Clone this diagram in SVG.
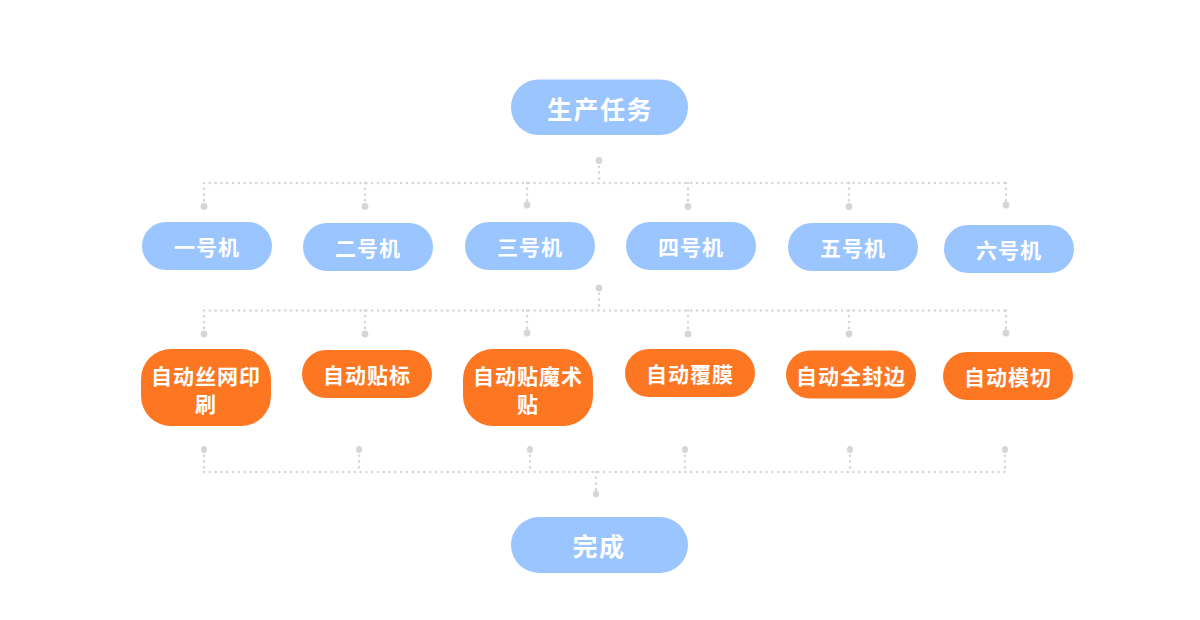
<svg xmlns="http://www.w3.org/2000/svg" width="1200" height="620" viewBox="0 0 1200 620">
  <style>
    .blue { fill: #9AC5FE; }
    .orange { fill: #FD7621; }
    .t { fill: #FFFFFF; font-family: "Noto Sans CJK SC", "Noto Sans", sans-serif; font-weight: bold; font-size: 21px; letter-spacing: 1px; text-anchor: middle; dominant-baseline: central; }
    .big { font-size: 25px; letter-spacing: 1.5px; }
    .dl { fill: none; stroke: #D6D6D6; stroke-width: 2.6; stroke-linecap: round; stroke-dasharray: 0 5.8; }
    .dot { fill: #D6D6D6; }
  </style>
  <rect width="1200" height="620" fill="#FFFFFF"/>

  <g id="connectors">
    <!-- top hub -->
    <path class="dl" d="M599 161 V183 M204 183 H1006 M204 183 V206 M365 183 V206 M527 183 V205 M688 183 V206 M849 183 V206 M1006 183 V205"/>
    <circle class="dot" cx="599" cy="160.5" r="3.4"/>
    <circle class="dot" cx="204" cy="206.5" r="3.4"/>
    <circle class="dot" cx="365" cy="206.5" r="3.4"/>
    <circle class="dot" cx="527" cy="205" r="3.4"/>
    <circle class="dot" cx="688" cy="206.5" r="3.4"/>
    <circle class="dot" cx="849" cy="206.5" r="3.4"/>
    <circle class="dot" cx="1006" cy="205" r="3.4"/>
    <!-- middle hub -->
    <path class="dl" d="M599 288 V310.5 M204 310.5 H1006 M204 310.5 V333 M365 310.5 V333 M527 310.5 V332 M688 310.5 V333 M849 310.5 V333 M1006 310.5 V332"/>
    <circle class="dot" cx="599" cy="288" r="3.4"/>
    <circle class="dot" cx="204" cy="334" r="3.4"/>
    <circle class="dot" cx="365" cy="334" r="3.4"/>
    <circle class="dot" cx="527" cy="333" r="3.4"/>
    <circle class="dot" cx="688" cy="334" r="3.4"/>
    <circle class="dot" cx="849" cy="334" r="3.4"/>
    <circle class="dot" cx="1006" cy="333" r="3.4"/>
    <!-- bottom hub -->
    <path class="dl" d="M204 450 V472 M359 450 V472 M530 450 V472 M685 450 V472 M850 450 V472 M1005 450 V472 M204 472 H1005 M596 472 V493"/>
    <ellipse class="dot" cx="204" cy="449.5" rx="3" ry="3.5"/>
    <ellipse class="dot" cx="359" cy="449.5" rx="3" ry="3.5"/>
    <ellipse class="dot" cx="530" cy="449.5" rx="3" ry="3.5"/>
    <ellipse class="dot" cx="685" cy="449.5" rx="3" ry="3.5"/>
    <ellipse class="dot" cx="850" cy="449.5" rx="3" ry="3.5"/>
    <ellipse class="dot" cx="1005" cy="449.5" rx="3" ry="3.5"/>
    <ellipse class="dot" cx="596" cy="494" rx="3" ry="3.5"/>
  </g>

  <g id="n-task">
    <rect class="blue" x="511" y="79.5" width="177" height="55.5" rx="27.7"/>
    <text class="t big" x="600" y="107.5">生产任务</text>
  </g>

  <g id="n-m1">
    <rect class="blue" x="142" y="222" width="130" height="48" rx="24"/>
    <text class="t" x="207" y="246">一号机</text>
  </g>
  <g id="n-m2">
    <rect class="blue" x="303" y="223" width="130" height="48" rx="24"/>
    <text class="t" x="368" y="247">二号机</text>
  </g>
  <g id="n-m3">
    <rect class="blue" x="465" y="222" width="130" height="48" rx="24"/>
    <text class="t" x="530" y="246">三号机</text>
  </g>
  <g id="n-m4">
    <rect class="blue" x="626" y="222" width="130" height="48" rx="24"/>
    <text class="t" x="691" y="246">四号机</text>
  </g>
  <g id="n-m5">
    <rect class="blue" x="788" y="223" width="130" height="48" rx="24"/>
    <text class="t" x="853" y="247">五号机</text>
  </g>
  <g id="n-m6">
    <rect class="blue" x="944" y="225" width="130" height="48" rx="24"/>
    <text class="t" x="1009" y="249">六号机</text>
  </g>

  <g id="n-p1">
    <rect class="orange" x="141" y="349" width="130" height="77" rx="30"/>
    <text class="t" x="206" y="375">自动丝网印</text>
    <text class="t" x="206" y="403">刷</text>
  </g>
  <g id="n-p2">
    <rect class="orange" x="302" y="350" width="130" height="48" rx="24"/>
    <text class="t" x="367" y="374">自动贴标</text>
  </g>
  <g id="n-p3">
    <rect class="orange" x="463" y="349" width="130" height="77" rx="30"/>
    <text class="t" x="528" y="375">自动贴魔术</text>
    <text class="t" x="528" y="403">贴</text>
  </g>
  <g id="n-p4">
    <rect class="orange" x="625" y="349" width="130" height="48" rx="24"/>
    <text class="t" x="690" y="373">自动覆膜</text>
  </g>
  <g id="n-p5">
    <rect class="orange" x="786" y="350.5" width="130" height="48" rx="24"/>
    <text class="t" x="851" y="374.5">自动全封边</text>
  </g>
  <g id="n-p6">
    <rect class="orange" x="943" y="352" width="130" height="48" rx="24"/>
    <text class="t" x="1008" y="376">自动模切</text>
  </g>

  <g id="n-done">
    <rect class="blue" x="511" y="517" width="177" height="56" rx="28"/>
    <text class="t big" x="599" y="545">完成</text>
  </g>
</svg>
